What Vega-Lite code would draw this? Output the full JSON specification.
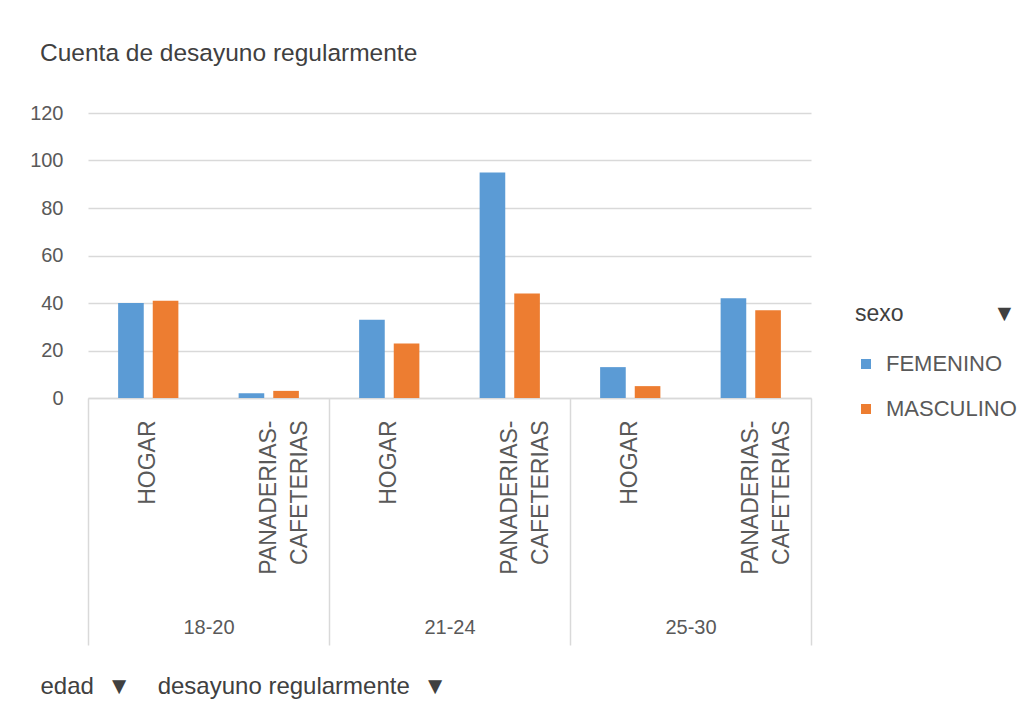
{
  "$schema": "https://vega.github.io/schema/vega-lite/v6.json",
  "width": 723,
  "height": 285,
  "autosize": {"type": "none"},
  "padding": {"left": 88, "top": 113, "right": 224, "bottom": 329},
  "background": "white",
  "config": {
    "view": {"stroke": null},
    "font": "Liberation Sans"
  },
  "title": {
    "text": "Cuenta de desayuno regularmente",
    "anchor": "start",
    "frame": "group",
    "dx": -48,
    "offset": 37,
    "fontSize": 24.5,
    "fontWeight": "normal",
    "color": "#404040"
  },
  "data": {
    "values": [
      {"edad": "18-20", "desayuno": "HOGAR", "sexo": "FEMENINO", "cuenta": 40},
      {"edad": "18-20", "desayuno": "HOGAR", "sexo": "MASCULINO", "cuenta": 41},
      {"edad": "18-20", "desayuno": "PANADERIAS-CAFETERIAS", "sexo": "FEMENINO", "cuenta": 2},
      {"edad": "18-20", "desayuno": "PANADERIAS-CAFETERIAS", "sexo": "MASCULINO", "cuenta": 3},
      {"edad": "21-24", "desayuno": "HOGAR", "sexo": "FEMENINO", "cuenta": 33},
      {"edad": "21-24", "desayuno": "HOGAR", "sexo": "MASCULINO", "cuenta": 23},
      {"edad": "21-24", "desayuno": "PANADERIAS-CAFETERIAS", "sexo": "FEMENINO", "cuenta": 95},
      {"edad": "21-24", "desayuno": "PANADERIAS-CAFETERIAS", "sexo": "MASCULINO", "cuenta": 44},
      {"edad": "25-30", "desayuno": "HOGAR", "sexo": "FEMENINO", "cuenta": 13},
      {"edad": "25-30", "desayuno": "HOGAR", "sexo": "MASCULINO", "cuenta": 5},
      {"edad": "25-30", "desayuno": "PANADERIAS-CAFETERIAS", "sexo": "FEMENINO", "cuenta": 42},
      {"edad": "25-30", "desayuno": "PANADERIAS-CAFETERIAS", "sexo": "MASCULINO", "cuenta": 37}
    ]
  },
  "transform": [
    {"calculate": "datum.edad + '|' + datum.desayuno", "as": "grupo"}
  ],
  "layer": [
    {
      "mark": {"type": "bar"},
      "encoding": {
        "x": {
          "field": "grupo",
          "type": "nominal",
          "sort": null,
          "scale": {"paddingInner": 0, "paddingOuter": 0},
          "axis": {
            "orient": "bottom",
            "title": null,
            "labelAngle": -90,
            "labelAlign": "right",
            "labelBaseline": "middle",
            "labelPadding": 22,
            "ticks": false,
            "domain": true,
            "domainColor": "#d9d9d9",
            "domainWidth": 1.5,
            "grid": false,
            "labelFontSize": 23,
            "labelLineHeight": 31,
            "labelColor": "#595959",
            "labelOverlap": false,
            "labelBound": false,
            "labelLimit": 0,
            "labelExpr": "split(replace(split(datum.value, '|')[1], '-', '-|'), '|')"
          }
        },
        "xOffset": {
          "field": "sexo",
          "type": "nominal",
          "scale": {"paddingInner": 0.26, "paddingOuter": 0.87}
        },
        "y": {
          "field": "cuenta",
          "type": "quantitative",
          "scale": {"domain": [0, 120]},
          "axis": {
            "title": null,
            "values": [0, 20, 40, 60, 80, 100, 120],
            "grid": true,
            "gridColor": "#d9d9d9",
            "gridWidth": 1.5,
            "domain": false,
            "ticks": false,
            "labelFontSize": 20,
            "labelColor": "#595959",
            "labelPadding": 25
          }
        },
        "color": {
          "field": "sexo",
          "type": "nominal",
          "scale": {"domain": ["FEMENINO", "MASCULINO"], "range": ["#5B9BD5", "#ED7D31"]},
          "legend": {
            "orient": "none",
            "legendX": 767,
            "legendY": 190,
            "title": "sexo\u00a0\u00a0\u00a0\u00a0\u00a0\u00a0\u00a0\u00a0\u00a0\u00a0\u00a0\u00a0\u00a0\u00a0▼",
            "titleFontSize": 23,
            "titleFontWeight": "normal",
            "titleColor": "#404040",
            "labelFontSize": 22,
            "labelColor": "#595959",
            "symbolType": "square",
            "symbolSize": 100,
            "symbolStrokeWidth": 0,
            "labelOffset": 9,
            "rowPadding": 23,
            "titlePadding": 27,
            "padding": 0
          }
        }
      }
    },
    {
      "mark": {"type": "tick", "opacity": 0},
      "encoding": {
        "x": {
          "field": "edad",
          "type": "nominal",
          "scale": {"paddingInner": 0, "paddingOuter": 0},
          "axis": {
            "orient": "bottom",
            "title": "edad\u00a0\u00a0▼\u00a0\u00a0\u00a0\u00a0desayuno regularmente\u00a0\u00a0▼",
            "titleAnchor": "start",
            "titleAlign": "left",
            "titleBaseline": "middle",
            "titleX": -48,
            "titleY": 288,
            "titleFontSize": 24,
            "titleFontWeight": "normal",
            "titleColor": "#404040",
            "tickBand": "extent",
            "ticks": true,
            "tickSize": 247,
            "tickColor": "#d9d9d9",
            "tickWidth": 1.5,
            "domain": false,
            "grid": false,
            "labelAngle": 0,
            "labelAlign": "center",
            "labelBaseline": "middle",
            "labelPadding": -18,
            "labelFontSize": 20,
            "labelColor": "#595959"
          }
        }
      }
    }
  ],
  "resolve": {"scale": {"x": "independent"}, "axis": {"x": "independent"}}
}
